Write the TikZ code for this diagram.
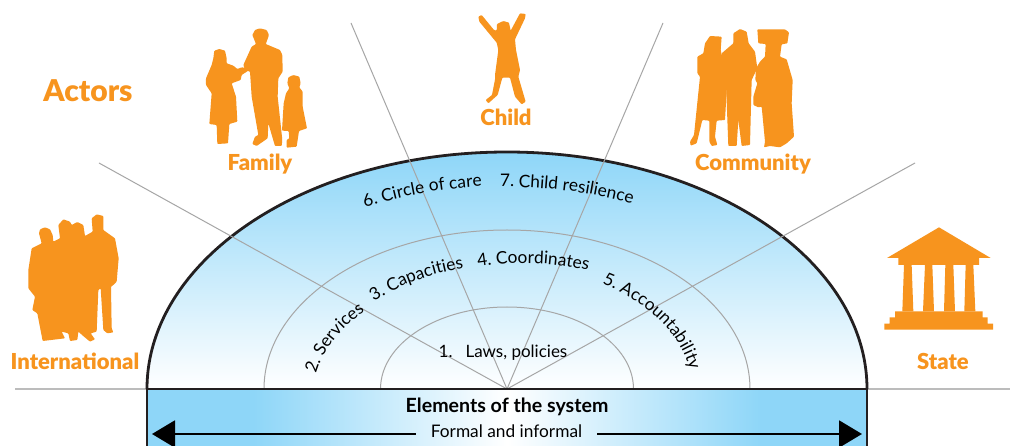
\documentclass[tikz,border=0pt]{standalone}
\usepackage{fontspec}
\setmainfont{Lato}
\newfontfamily\heavy{Lato Black}
\usetikzlibrary{decorations.text,arrows.meta}
\definecolor{orng}{HTML}{F7941E}
\definecolor{sky}{HTML}{8ED6F8}
\definecolor{inkk}{HTML}{231F20}
\definecolor{rule}{HTML}{A6A6A6}
\pgfdeclarehorizontalshading{boxshade}{100bp}{color(0bp)=(sky);color(32.4bp)=(sky);color(50bp)=(white);color(67.6bp)=(sky);color(100bp)=(sky)}
\tikzset{
  actor/.style={text=orng,font=\fontsize{22}{24}\heavy,inner sep=0pt,anchor=base},
  sil/.style={fill=orng,draw=none,rounded corners=0.8pt},
  ring/.style={draw=rule,line width=1pt},
  ray/.style={draw=rule,line width=1pt},
  horizon/.style={draw=rule!75,line width=1.5pt},
  curved/.style={decorate,decoration={text along path,text color=black,text={|\fontsize{17.3}{19}\selectfont|#1}}},
  bigarrow/.style={line width=2pt,-{Triangle[length=23pt,width=27pt]}},
}
\begin{document}
\begin{tikzpicture}[x=1pt,y=-1pt]
\clip (0,0) rectangle (1010,446);
\fill[white] (0,0) rectangle (1010,446);
\coordinate (c) at (507,389);
\coordinate (horL) at (15,389);
\coordinate (horR) at (1010,389);
\coordinate (domeL) at (147,389);
\coordinate (domeR) at (867,389);
\coordinate (r1) at (99,163);
\coordinate (r2) at (351,23);
\coordinate (r3) at (663,23);
\coordinate (r4) at (915,163);
\coordinate (tipL) at (152,434);
\coordinate (tipR) at (862,434);

% horizon
\draw[horizon] (horL) -- (domeL);
\draw[horizon] (domeR) -- (horR);

% dome
\path[top color=sky,bottom color=white] (147,389) arc[start angle=180,end angle=360,x radius=360,y radius=237] -- cycle;
\path[draw=inkk,line width=2.8pt] (147,389) arc[start angle=180,end angle=360,x radius=360,y radius=237];

% rings
\draw[ring] (264,389) arc[start angle=180,end angle=360,x radius=243,y radius=159];
\draw[ring] (380.5,389) arc[start angle=180,end angle=360,x radius=126.5,y radius=82];

% rays
\draw[ray] (c) -- (r1);
\draw[ray] (c) -- (r2);
\draw[ray] (c) -- (r3);
\draw[ray] (c) -- (r4);

% box
\path[shading=boxshade] (147,389) rectangle (867,452);
\draw[draw=inkk,line width=2.8pt] (147,389) rectangle (867,452);

% curved texts
\path[curved={6. Circle of care}] (365,207.5) arc[start angle=243.2,end angle=300,x radius=315,y radius=202];
\path[curved={7. Child resilience}] (500,187) arc[start angle=268.7,end angle=340,x radius=315,y radius=202];
\path[curved={2. Services}] (316,374) arc[start angle=191,end angle=240,x radius=185,y radius=124];
\path[curved={3. Capacities}] (374,301.5) arc[start angle=224.7,end angle=275,x radius=190,y radius=124];
\path[curved={4. Coordinates}] (478,267) arc[start angle=256,end angle=310,x radius=190,y radius=124];
\path[curved={5. Accountability}] (602,284) arc[start angle=299,end angle=365,x radius=176,y radius=124];

\node[font=\fontsize{17}{19}\selectfont,inner sep=0pt,anchor=base] (laws) at (503,358) {1.\hspace{13pt}Laws, policies};
\node[font=\fontsize{19.6}{21}\selectfont\bfseries,inner sep=0pt,anchor=base] (elements) at (507,413) {Elements of the system};
\node[font=\fontsize{17.3}{19}\selectfont,inner sep=0pt,anchor=base] (formal) at (506.5,437) {Formal and informal};
\coordinate (startL) at ([xshift=-15pt]formal.west |- tipL);
\coordinate (startR) at ([xshift=15pt]formal.east |- tipR);
\draw[bigarrow] (startL) -- (tipL);
\draw[bigarrow] (startR) -- (tipR);

% labels
\node[actor,font=\fontsize{30}{32}\heavy] (actors) at (88,101.5) {Actors};
\node[actor] (family) at (260,171) {Family};
\node[actor] (child) at (506,126) {Child};
\node[actor] (community) at (753,171) {Community};
\node[actor] (international) at (75,370) {International};
\node[actor] (state) at (943,370) {State};

% Family
\begin{scope}[scale=1/3]
\fill[sil] (658,147)--(675,152)--(680,175)--(680,190)--(700,197)--(712,207)--(725,202)--(745,205)--(745,212)--(725,225)--(722,240)--(695,250)--(708,290)--(712,365)--(688,372)--(684,430)--(652,432)--(650,375)--(628,372)--(635,280)--(618,255)--(618,235)--(635,195)--(640,175)--(643,152)--cycle;
\fill[sil] (780,85)--(800,90)--(807,105)--(800,125)--(797,132)--(840,150)--(847,165)--(848,215)--(835,235)--(833,290)--(847,420)--(845,438)--(825,438)--(805,370)--(803,415)--(770,438)--(757,432)--(765,410)--(775,405)--(755,290)--(750,215)--(735,210)--(730,195)--(755,140)--(768,132)--(757,105)--(765,90)--cycle;
\fill[sil] (880,225)--(898,230)--(902,250)--(898,262)--(908,275)--(908,320)--(921,385)--(897,393)--(890,440)--(860,443)--(860,420)--(868,415)--(866,393)--(846,392)--(851,310)--(858,280)--(868,265)--(862,250)--(865,232)--cycle;
\end{scope}

% International
\begin{scope}[shift={(0,200)},scale=1/3]
\fill[sil] (135,82)--(150,88)--(158,105)--(160,125)--(180,115)--(175,75)--(190,58)--(210,65)--(215,75)--(232,66)--(250,75)--(255,108)--(278,95)--(275,55)--(290,43)--(310,48)--(310,90)--(345,115)--(356,175)--(350,245)--(340,255)--(333,260)--(335,385)--(340,397)--(322,400)--(310,390)--(302,265)--(295,270)--(290,395)--(272,400)--(285,418)--(270,425)--(252,410)--(235,395)--(232,420)--(210,423)--(205,400)--(185,395)--(195,415)--(128,423)--(112,340)--(97,330)--(105,290)--(85,265)--(85,210)--(95,145)--(125,130)--(117,100)--(120,88)--cycle;
\end{scope}

% Child
\begin{scope}[shift={(340,0)},scale=1/3]
\fill[sil] (415,50)--(425,45)--(462,90)--(470,92)--(471,72)--(490,63)--(507,68)--(512,92)--(540,40)--(557,42)--(555,55)--(525,118)--(528,150)--(540,210)--(535,230)--(557,305)--(545,313)--(525,290)--(510,233)--(487,233)--(473,285)--(445,310)--(437,300)--(456,285)--(466,233)--(465,225)--(475,150)--(470,128)--(418,65)--cycle;
\end{scope}

% Community
\begin{scope}[shift={(670,0)},scale=1/3]
\fill[sil] (120,108)--(155,110)--(152,150)--(172,240)--(165,360)--(140,362)--(135,410)--(142,435)--(125,438)--(118,425)--(118,362)--(97,360)--(80,430)--(62,437)--(60,425)--(72,405)--(90,230)--(82,220)--(82,170)--(100,160)--(105,130)--cycle;
\fill[sil] (190,100)--(210,87)--(230,95)--(236,130)--(255,155)--(262,205)--(245,240)--(240,435)--(215,438)--(205,360)--(200,438)--(175,438)--(168,250)--(160,240)--(155,160)--(190,130)--cycle;
\fill[sil] (262,88)--(345,88)--(357,97)--(352,130)--(335,133)--(330,170)--(350,178)--(368,240)--(365,310)--(372,410)--(350,430)--(330,442)--(300,438)--(282,442)--(285,425)--(275,320)--(265,322)--(250,315)--(250,290)--(262,250)--(256,240)--(258,205)--(270,185)--(285,170)--(287,132)--(265,130)--cycle;
\end{scope}

% State
\begin{scope}[shift={(670,200)},scale=1/3]
\fill[orng] (651,174)--(807,82)--(962,174)--(927,174)--(927,195)--(685,195)--(685,174)--cycle;
\fill[orng] (702,195)--(725,195)--(730,334)--(697,334)--cycle;
\fill[orng] (765,195)--(787,195)--(792,334)--(759,334)--cycle;
\fill[orng] (826,195)--(850,195)--(855,334)--(822,334)--cycle;
\fill[orng] (887,195)--(910,195)--(916,334)--(883,334)--cycle;
\fill[orng] (675,334)--(938,334)--(938,352)--(953,352)--(953,371)--(969,371)--(969,389)--(643,389)--(643,371)--(659,371)--(659,352)--(675,352)--cycle;
\end{scope}
\end{tikzpicture}
\end{document}
